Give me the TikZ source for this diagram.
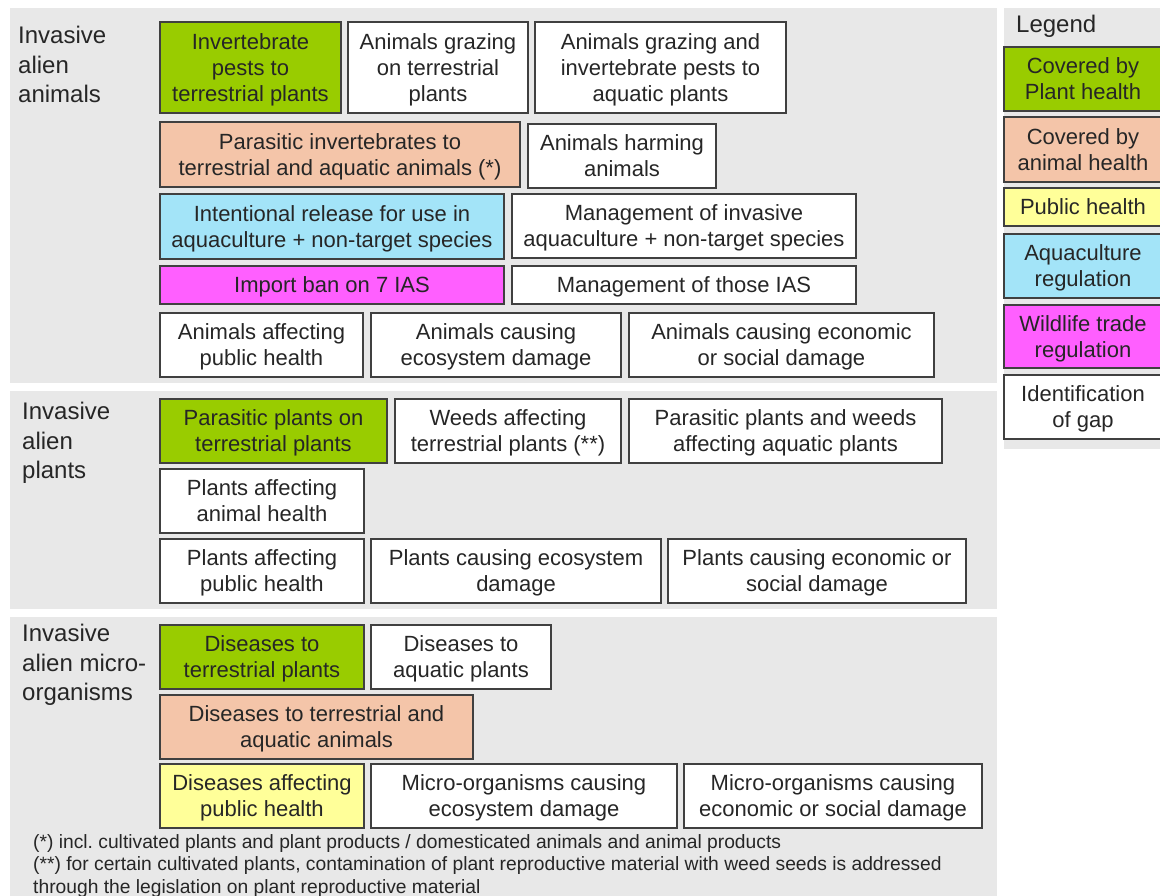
\documentclass[tikz,border=0pt]{standalone}
\usepackage{fontspec}
\setmainfont{Liberation Sans}
\frenchspacing
\definecolor{panel}{HTML}{E8E8E8}
\definecolor{edge}{HTML}{404040}
\definecolor{ink}{HTML}{262626}
\definecolor{cgreen}{HTML}{99CC00}
\definecolor{cpeach}{HTML}{F4C5A9}
\definecolor{cyellow}{HTML}{FFFF99}
\definecolor{cblue}{HTML}{A3E4F8}
\definecolor{cmag}{HTML}{FF5FFF}
\tikzset{
  box/.style={draw=edge,line width=1.2pt,fill=white,inner sep=0pt,align=center,text=ink,
    font=\fontsize{22}{26}\selectfont},
  plant/.style={fill=cgreen},
  animal/.style={fill=cpeach},
  public/.style={fill=cyellow},
  aqua/.style={fill=cblue},
  wild/.style={fill=cmag},
  gap/.style={fill=white},
  title/.style={anchor=north west,inner sep=0pt,align=left,text=ink,
    font=\fontsize{24}{29.5}\selectfont},
  note/.style={anchor=north west,inner sep=0pt,align=left,text=ink,
    font=\fontsize{19.25}{22.5}\selectfont},
}
\newcommand\bx[7]{%
  \pgfmathsetmacro\bw{#4-#2}\pgfmathsetmacro\bh{#5-#3}%
  \node[box,#6,minimum width=\bw pt,minimum height=\bh pt] (#1) at ({(#2+#4)/2},{(#3+#5)/2})
    {\rule{0pt}{20pt}#7\rule[-4.7pt]{0pt}{4.7pt}};}
\begin{document}
\begin{tikzpicture}[x=1pt,y=-1pt]
\useasboundingbox (0,0) rectangle (1160,896);
\clip (0,0) rectangle (1160,896);
% panels
\fill[panel] (10,8) rectangle (997,383);
\fill[panel] (10,391) rectangle (997,609);
\fill[panel] (10,617) rectangle (997,900);
\fill[panel] (1004,8) rectangle (1165,449);
% titles
\node[title] (t1) at (18,26) {Invasive\\alien\\animals};
\node[title] (t2) at (22,402) {Invasive\\alien\\plants};
\node[title] (t3) at (22,624) {Invasive\\alien micro-\\organisms};
\node[title] (tl) at (1016,15) {Legend};
% animals
\bx{a1}{160}{22}{341}{113}{plant}{Invertebrate\\pests to\\terrestrial plants}
\bx{a2}{348}{22}{528}{113}{gap}{Animals grazing\\on terrestrial\\plants}
\bx{a3}{535}{22}{786}{113}{gap}{Animals grazing and\\invertebrate pests to\\aquatic plants}
\bx{a4}{160}{122}{520}{187}{animal}{Parasitic invertebrates to\\terrestrial and aquatic animals (*)}
\bx{a5}{528}{124}{716}{188}{gap}{Animals harming\\animals}
\bx{a6}{160}{194}{504}{259}{aqua}{Intentional release for use in\\aquaculture + non-target species}
\bx{a7}{512}{194}{856}{258}{gap}{Management of invasive\\aquaculture + non-target species}
\bx{a8}{160}{266}{504}{304}{wild}{Import ban on 7 IAS}
\bx{a9}{512}{266}{856}{304}{gap}{Management of those IAS}
\bx{a10}{160}{313}{363}{377}{gap}{Animals affecting\\public health}
\bx{a11}{371}{313}{621}{377}{gap}{Animals causing\\ecosystem damage}
\bx{a12}{629}{313}{934}{377}{gap}{Animals causing economic\\or social damage}
% plants
\bx{p1}{160}{399}{387}{463}{plant}{Parasitic plants on\\terrestrial plants}
\bx{p2}{395}{399}{621}{463}{gap}{Weeds affecting\\terrestrial plants (**)}
\bx{p3}{629}{399}{942}{463}{gap}{Parasitic plants and weeds\\affecting aquatic plants}
\bx{p4}{160}{469}{364}{533}{gap}{Plants affecting\\animal health}
\bx{p5}{160}{539}{364}{603}{gap}{Plants affecting\\public health}
\bx{p6}{371}{539}{661}{603}{gap}{Plants causing ecosystem\\damage}
\bx{p7}{668}{539}{966}{603}{gap}{Plants causing economic or\\social damage}
% micro-organisms
\bx{m1}{160}{625}{364}{689}{plant}{Diseases to\\terrestrial plants}
\bx{m2}{371}{625}{551}{689}{gap}{Diseases to\\aquatic plants}
\bx{m3}{160}{695}{473}{759}{animal}{Diseases to terrestrial and\\aquatic animals}
\bx{m4}{160}{764}{364}{828}{public}{Diseases affecting\\public health}
\bx{m5}{371}{764}{677}{828}{gap}{Micro-organisms causing\\ecosystem damage}
\bx{m6}{684}{764}{982}{828}{gap}{Micro-organisms causing\\economic or social damage}
% footnotes
\node[note] (n1) at (33,834) {(*) incl. cultivated plants and plant products / domesticated animals and animal products\\
(**) for certain cultivated plants, contamination of plant reproductive material with weed seeds is addressed\\
through the legislation on plant reproductive material};
% legend
\bx{l1}{1004}{47}{1162}{111}{plant}{Covered by\\Plant health}
\bx{l2}{1004}{117}{1162}{182}{animal}{Covered by\\animal health}
\bx{l3}{1004}{188}{1162}{226}{public}{Public health}
\bx{l4}{1004}{234}{1162}{298}{aqua}{Aquaculture\\regulation}
\bx{l5}{1004}{305}{1162}{368}{wild}{Wildlife trade\\regulation}
\bx{l6}{1004}{375}{1162}{439}{gap}{Identification\\of gap}
\end{tikzpicture}
\end{document}
